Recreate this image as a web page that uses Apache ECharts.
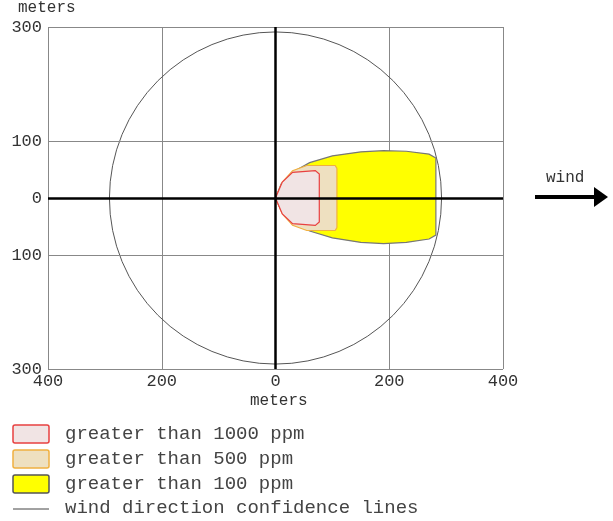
<!DOCTYPE html>
<html><head><meta charset="utf-8">
<script src="https://cdn.jsdelivr.net/npm/echarts@6/dist/echarts.min.js"></script>
<style>html,body{margin:0;background:#fff}#c{width:613px;height:521px}</style>
</head><body><div id="c"></div>
<script>
// threat zones, meters downwind (x) / crosswind (y)
var zone100 = [[0,0],[10,25],[30,45],[60,62],[100,74],[150,81],[190,83],[230,82],[270,77],[282,70],[282,-65],[270,-72],[230,-78],[190,-80],[150,-78],[100,-70],[60,-58],[30,-42],[10,-22],[0,0]];
var zone500 = [[0,0],[12,28],[30,48],[55,57],[105,57],[108,52],[108,-52],[105,-57],[55,-57],[30,-48],[12,-28],[0,0]];
var zone1000 = [[0,0],[12,28],[30,45],[70,48],[77,42],[77,-42],[70,-48],[30,-45],[12,-28],[0,0]];
var circleRadius = 292;
var legendLabels = ['greater than 1000 ppm','greater than 500 ppm','greater than 100 ppm','wind direction confidence lines'];

var font = 'Liberation Mono';
function poly(data, fill, stroke) {
	return {
		type : 'custom',
		data : [0],
		z : 5,
		renderItem : function(params, api) {
			return {
				type : 'polygon',
				shape : { points : data.map(function(p) { return api.coord(p); }) },
				style : { fill : fill, stroke : stroke, lineWidth : 1.2 }
			};
		}
	};
}
var chart = echarts.init(document.getElementById('c'));
chart.setOption({
	animation : false,
	grid : { left : 48, right : 110, top : 27, bottom : 152 },
	xAxis : {
		type : 'value', min : -400, max : 400, interval : 200,
		axisLine : { show : false }, axisTick : { show : false },
		splitLine : { lineStyle : { color : '#888' } },
		axisLabel : { fontFamily : font, fontSize : 17, color : '#333', margin : 4,
			formatter : function(v) { return Math.abs(v); } }
	},
	yAxis : {
		type : 'value', min : -300, max : 300, interval : 100,
		axisLine : { show : false }, axisTick : { show : false },
		splitLine : { show : false },
		axisLabel : { fontFamily : font, fontSize : 17, color : '#333', margin : 6,
			formatter : function(v) { return Math.abs(v) == 200 ? '' : Math.abs(v); } }
	},
	series : [
		{
			type : 'line', data : [], z : 1,
			markLine : {
				silent : true, symbol : 'none', label : { show : false },
				lineStyle : { color : '#888', type : 'solid', width : 1 },
				data : [ { yAxis : 100 }, { yAxis : -100 }, { yAxis : 300 }, { yAxis : -300 }, { xAxis : -400 }, { xAxis : 400 } ]
			}
		},
		{
			type : 'custom', data : [0], z : 3,
			renderItem : function(params, api) {
				var c = api.coord([0, 0]);
				var r = api.size([circleRadius, 0])[0];
				return { type : 'circle', shape : { cx : c[0], cy : c[1], r : r },
					style : { fill : 'none', stroke : '#555', lineWidth : 1 } };
			}
		},
		poly(zone100, '#ffff00', '#777'),
		poly(zone500, '#eee0c0', '#f0b040'),
		poly(zone1000, '#f1e4e4', '#e84040'),
		{
			type : 'line', data : [], z : 30,
			markLine : {
				silent : true, symbol : 'none', label : { show : false }, z : 30,
				lineStyle : { color : '#000', type : 'solid', width : 2.5 },
				data : [ { xAxis : 0 }, { yAxis : 0 } ]
			}
		}
	],
	graphic : [
		{ type : 'text', left : 18, top : 0, style : { text : 'meters', font : '16px ' + font, fill : '#333' } },
		{ type : 'text', left : 250, top : 393, style : { text : 'meters', font : '16px ' + font, fill : '#333' } },
		{ type : 'text', left : 546, top : 170, style : { text : 'wind', font : '16px ' + font, fill : '#333' } },
		{ type : 'line', shape : { x1 : 535, y1 : 197, x2 : 596, y2 : 197 }, style : { stroke : '#000', lineWidth : 4 } },
		{ type : 'polygon', shape : { points : [[594,187],[608,197],[594,207]] }, style : { fill : '#000' } },
		{ type : 'rect', shape : { x : 13, y : 425, width : 36, height : 18, r : 2 }, style : { fill : '#f1e4e4', stroke : '#e84040', lineWidth : 1.5 } },
		{ type : 'rect', shape : { x : 13, y : 450, width : 36, height : 18, r : 2 }, style : { fill : '#eee0c0', stroke : '#f0b040', lineWidth : 1.5 } },
		{ type : 'rect', shape : { x : 13, y : 475, width : 36, height : 18, r : 2 }, style : { fill : '#ffff00', stroke : '#555', lineWidth : 1.5 } },
		{ type : 'line', shape : { x1 : 13, y1 : 509, x2 : 49, y2 : 509 }, style : { stroke : '#444', lineWidth : 1 } },
		{ type : 'text', left : 65, top : 424, style : { text : legendLabels[0], font : '19px ' + font, fill : '#444' } },
		{ type : 'text', left : 65, top : 449, style : { text : legendLabels[1], font : '19px ' + font, fill : '#444' } },
		{ type : 'text', left : 65, top : 474, style : { text : legendLabels[2], font : '19px ' + font, fill : '#444' } },
		{ type : 'text', left : 65, top : 498, style : { text : legendLabels[3], font : '19px ' + font, fill : '#444' } }
	]
});
</script></body></html>
